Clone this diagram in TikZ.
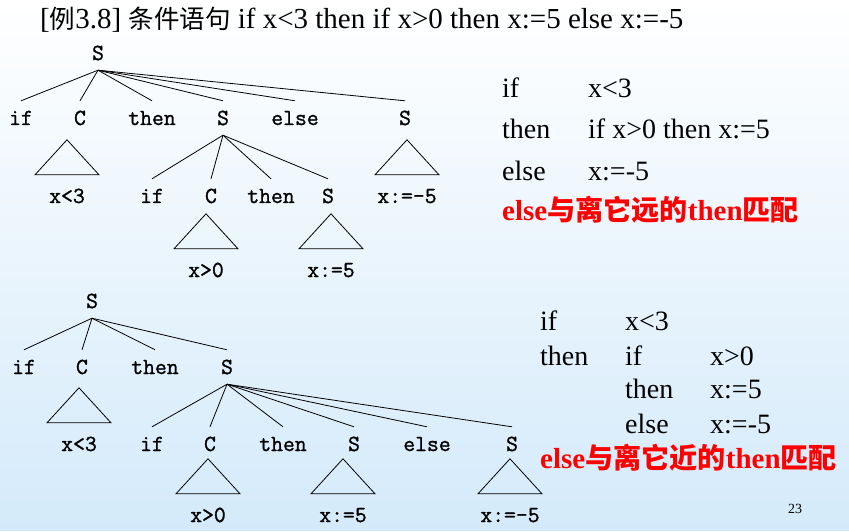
\documentclass[tikz,border=0pt]{standalone}
\usepackage{fontspec}
\setmainfont{Liberation Serif}
\newfontfamily\cjk{Noto Sans CJK SC}[Scale=0.88]
\newfontfamily\cjkb{Noto Sans CJK SC}[Scale=0.97]
\newfontfamily\treefont{Latin Modern Mono}[FakeBold=1.2]
\usetikzlibrary{positioning}
\definecolor{bgblue}{RGB}{212,234,250}
\newcommand{\subtri}[1]{\draw [tri] (#1.north) ++(-32,-4) -- ++(64,0) -- ++(-32,-35) -- cycle;}

\begin{document}
\begin{tikzpicture}[x=1pt,y=-1pt,
  tok/.style={font=\fontsize{23}{24}\selectfont\treefont,inner xsep=0pt,inner ysep=10pt,text height=14pt,text depth=0pt},
  txt/.style={font=\fontsize{28}{30}\selectfont,inner sep=0pt,anchor=base west},
  hint/.style={txt,text=red,font=\fontsize{29}{30}\selectfont\bfseries},
  edge/.style={line width=0.8pt},
  tri/.style={line width=0.8pt}]
	\fill [top color=white,bottom color=bgblue] (0,0) rectangle (849,530);
	\node (title) [txt,font=\fontsize{29}{30}\selectfont] at (40,29) {[{\cjk 例}3.8] {\cjk 条件语句} if x<3 then if x>0 then x:=5 else x:=-5};
	% far then
	\node (s1) [tok,anchor=base] at (98,60) {S};
	\node (if1) [tok,below=65pt of s1.base,xshift=-77pt,anchor=base] {if};
	\node (c1) [tok,right=59pt of if1.base,anchor=base] {C};
	\node (then1) [tok,right=72pt of c1.base,anchor=base] {then};
	\node (s2) [tok,right=71pt of then1.base,anchor=base] {S};
	\node (else1) [tok,right=72pt of s2.base,anchor=base] {else};
	\node (s3) [tok,right=110pt of else1.base,anchor=base] {S};
	\node (if2) [tok,below=78pt of s2.base,xshift=-71pt,anchor=base] {if};
	\node (c2) [tok,right=59pt of if2.base,anchor=base] {C};
	\node (then2) [tok,right=60pt of c2.base,anchor=base] {then};
	\node (s4) [tok,right=57pt of then2.base,anchor=base] {S};
	\node (lt1) [tok,below=78pt of c1.base,xshift=-13pt,anchor=base] {x<3};
	\node (neg1) [tok,below=78pt of s3.base,xshift=2pt,anchor=base] {x:=-5};
	\node (gt1) [tok,below=74pt of c2.base,xshift=-5pt,anchor=base] {x>0};
	\node (pos1) [tok,below=74pt of s4.base,xshift=3pt,anchor=base] {x:=5};
	\draw [edge] (s1.south) to (if1.north);
	\draw [edge] (s1.south) to (c1.north);
	\draw [edge] (s1.south) to (then1.north);
	\draw [edge] (s1.south) to (s2.north);
	\draw [edge] (s1.south) to (else1.north);
	\draw [edge] (s1.south) to (s3.north);
	\draw [edge] (s2.south) to (if2.north);
	\draw [edge] (s2.south) to (c2.north);
	\draw [edge] (s2.south) to (then2.north);
	\draw [edge] (s2.south) to (s4.north);
	\subtri{lt1}
	\subtri{neg1}
	\subtri{gt1}
	\subtri{pos1}
	\node (r1if) [txt] at (502,98) {if};
	\node (r1c) [txt,right=86pt of r1if.base west,anchor=base west] {x<3};
	\node (r2then) [txt,below=41pt of r1if.base west,anchor=base west] {then};
	\node (r2s) [txt,right=86pt of r2then.base west,anchor=base west] {if x>0 then x:=5};
	\node (r3else) [txt,below=41pt of r2then.base west,anchor=base west] {else};
	\node (r3s) [txt,right=86pt of r3else.base west,anchor=base west] {x:=-5};
	\node (r4note) [hint,below=40pt of r3else.base west,anchor=base west] {else{\cjkb 与离它远的}then{\cjkb 匹配}};
	% near then
	\node (s5) [tok,anchor=base] at (92,308) {S};
	\node (if3) [tok,below=66pt of s5.base,xshift=-68pt,anchor=base] {if};
	\node (c3) [tok,right=58pt of if3.base,anchor=base] {C};
	\node (then3) [tok,right=73pt of c3.base,anchor=base] {then};
	\node (s6) [tok,right=72pt of then3.base,anchor=base] {S};
	\node (lt2) [tok,below=77pt of c3.base,xshift=-3pt,anchor=base] {x<3};
	\node (if4) [tok,below=77pt of s6.base,xshift=-75pt,anchor=base] {if};
	\node (c4) [tok,right=58pt of if4.base,anchor=base] {C};
	\node (then4) [tok,right=73pt of c4.base,anchor=base] {then};
	\node (s7) [tok,right=71pt of then4.base,anchor=base] {S};
	\node (else2) [tok,right=73pt of s7.base,anchor=base] {else};
	\node (s8) [tok,right=85pt of else2.base,anchor=base] {S};
	\node (gt2) [tok,below=71pt of c4.base,xshift=-2pt,anchor=base] {x>0};
	\node (pos2) [tok,below=71pt of s7.base,xshift=-11pt,anchor=base] {x:=5};
	\node (neg2) [tok,below=71pt of s8.base,xshift=-2pt,anchor=base] {x:=-5};
	\draw [edge] (s5.south) to (if3.north);
	\draw [edge] (s5.south) to (c3.north);
	\draw [edge] (s5.south) to (then3.north);
	\draw [edge] (s5.south) to (s6.north);
	\draw [edge] (s6.south) to (if4.north);
	\draw [edge] (s6.south) to (c4.north);
	\draw [edge] (s6.south) to (then4.north);
	\draw [edge] (s6.south) to (s7.north);
	\draw [edge] (s6.south) to (else2.north);
	\draw [edge] (s6.south) to (s8.north);
	\subtri{lt2}
	\subtri{gt2}
	\subtri{pos2}
	\subtri{neg2}
	\node (q1if) [txt] at (540,330) {if};
	\node (q1c) [txt,right=85pt of q1if.base west,anchor=base west] {x<3};
	\node (q2then) [txt,below=35pt of q1if.base west,anchor=base west] {then};
	\node (q2if) [txt,right=85pt of q2then.base west,anchor=base west] {if};
	\node (q2c) [txt,right=85pt of q2if.base west,anchor=base west] {x>0};
	\node (q3then) [txt,below=33pt of q2if.base west,anchor=base west] {then};
	\node (q3s) [txt,right=85pt of q3then.base west,anchor=base west] {x:=5};
	\node (q4else) [txt,below=35pt of q3then.base west,anchor=base west] {else};
	\node (q4s) [txt,right=85pt of q4else.base west,anchor=base west] {x:=-5};
	\node (q5note) [hint,below=138pt of q1if.base west,anchor=base west] {else{\cjkb 与离它近的}then{\cjkb 匹配}};
	\node (pageno) [font=\fontsize{14}{16}\selectfont,inner sep=0pt,anchor=base] at (795,513) {23};
\end{tikzpicture}
\end{document}
